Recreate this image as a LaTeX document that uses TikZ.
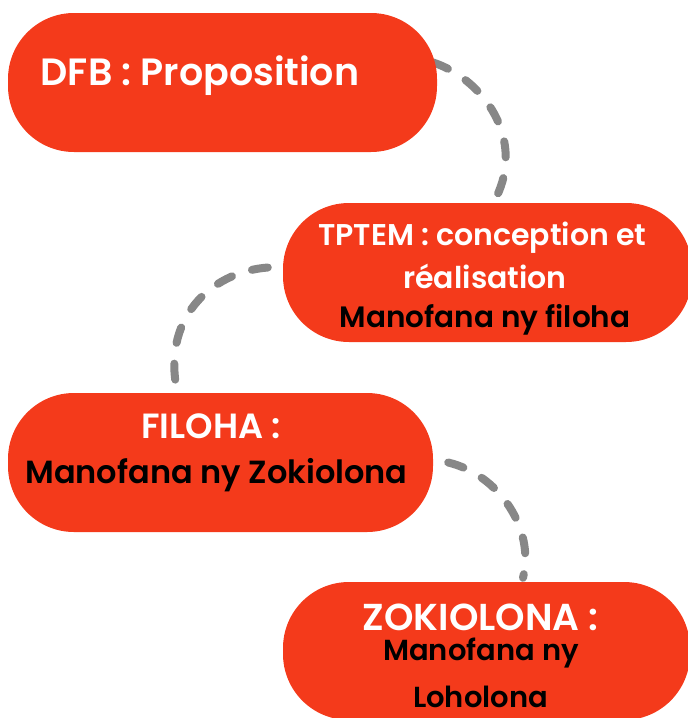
\documentclass[tikz,border=0pt]{standalone}
\usepackage{fontspec}
\setmainfont{Poppins}[BoldFont={Poppins SemiBold}]
\usetikzlibrary{calc,backgrounds}

\begin{document}
\begin{tikzpicture}[x=1pt,y=-1pt,
  myblob/.style={rectangle,rounded corners=66pt,fill=blobred,inner sep=0pt},
  mywhite/.style={anchor=base,text=white,font=\fontsize{#1}{#1}\selectfont\bfseries},
  myblack/.style={anchor=base,text=black,font=\fontsize{#1}{#1}\selectfont\bfseries},
  mylink/.style={draw=linkgrey,line width=8pt,line cap=round,dash pattern=on 16pt off 21pt}]
\definecolor{blobred}{HTML}{F43A1B}
\definecolor{linkgrey}{HTML}{878787}
\useasboundingbox (0,0) rectangle (688,718);

% the four blobs
\node [myblob,minimum width=429,minimum height=139] (dfb) at (222.5,82.5) {};
\node [myblob,minimum width=409,minimum height=139] (tptem) at (487.5,272.5) {};
\node [myblob,minimum width=425,minimum height=139] (filoha) at (220.5,462.5) {};
\node [myblob,minimum width=407,minimum height=138] (zokiolona) at (486.5,651) {};

% texts
\node [mywhite=38] (dfb-1) at (200,85) {DFB : Proposition};
\node [mywhite=30] (tptem-1) at (482.5,245) {TPTEM : conception et};
\node [mywhite=30] (tptem-2) at (485,288) {réalisation};
\node [myblack=29.5] (tptem-3) at (485,327) {Manofana ny filoha};
\node [mywhite=35] (filoha-1) at (211,438) {FILOHA :};
\node [myblack=32] (filoha-2) at (216.5,483) {Manofana ny Zokiolona};
\node [mywhite=37.5] (zokiolona-1) at (480.5,630) {ZOKIOLONA :};
\node [myblack=29] (zokiolona-2) at (481,660) {Manofana ny};
\node [myblack=29] (zokiolona-3) at (480.5,707) {Loholona};

% dashed links
\begin{scope}[on background layer]
\draw [mylink] ($(dfb.east)+(-4,-20)$) .. controls (485,80) and (525,140) .. ($(tptem.north)+(8.5,-5)$);
\draw [mylink] ($(tptem.west)+(-15,-5)$) .. controls (210,272) and (160,320) .. ($(filoha.north)+(-42.5,2)$);
\draw [mylink] ($(filoha.east)+(15,0)$) .. controls (500,475) and (535,530) .. ($(zokiolona.north)+(36.5,-4)$);
\end{scope}
\end{tikzpicture}
\end{document}
